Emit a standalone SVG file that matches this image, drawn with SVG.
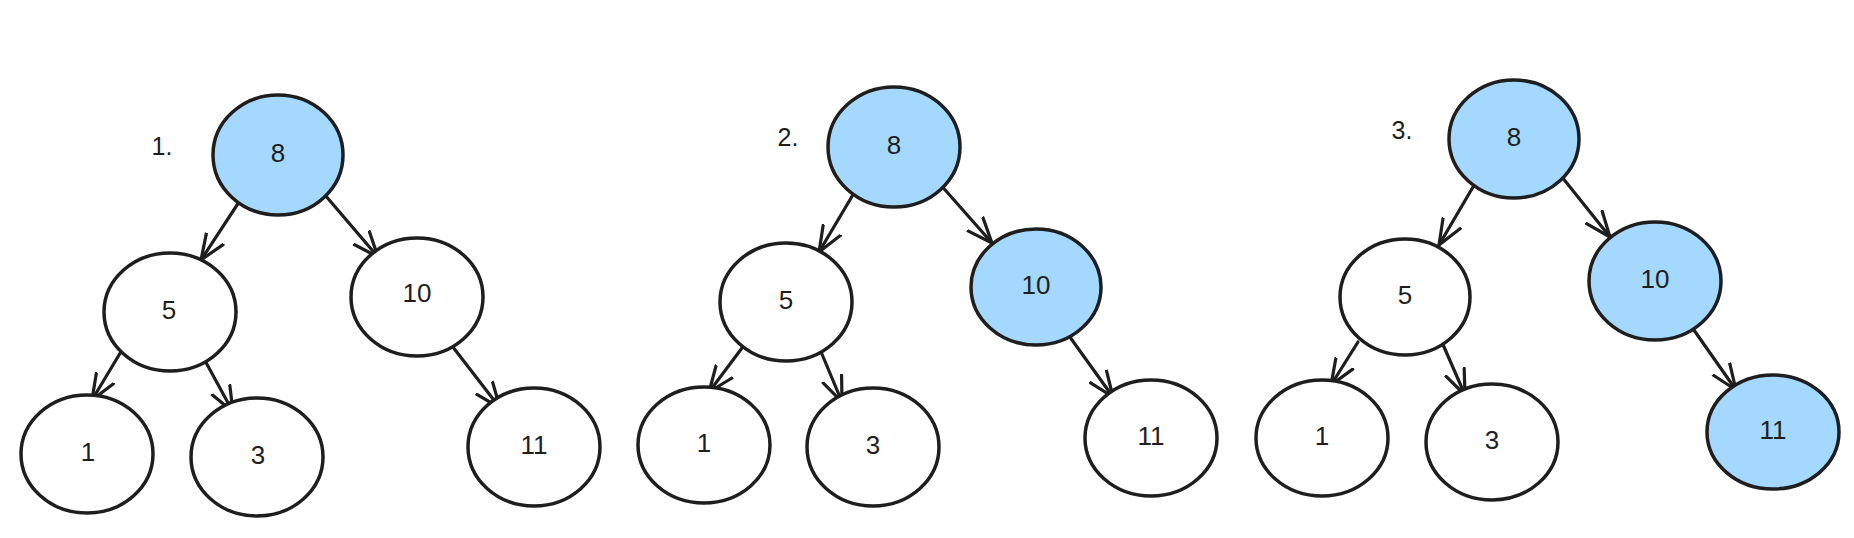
<svg xmlns="http://www.w3.org/2000/svg" width="1854" height="538" viewBox="0 0 1854 538">
<style>
.n{fill:#ffffff;stroke:#1e1e1e;stroke-width:3.5}
.h{fill:#a5d8ff;stroke:#1e1e1e;stroke-width:3.5}
.t{font-family:"Liberation Sans",Arial,sans-serif;font-size:26px;fill:#1e1e1e;text-anchor:middle;dominant-baseline:central}
.lbl{font-family:"Liberation Sans",Arial,sans-serif;font-size:25px;fill:#1e1e1e;text-anchor:middle;dominant-baseline:central}
.c{stroke:#1e1e1e;stroke-width:3.2;fill:none;marker-end:url(#ah);stroke-linecap:round}
</style>
<defs>
<marker id="ah" markerUnits="userSpaceOnUse" viewBox="0 0 28 24" markerWidth="28" markerHeight="24" refX="26" refY="12" orient="auto">
<path d="M1,2 L26,12 L1,22" fill="none" stroke="#1e1e1e" stroke-width="3.2" stroke-linecap="round" stroke-linejoin="round"/>
</marker>
</defs>
<rect width="1854" height="538" fill="#ffffff"/>
<g id="connectors">
<line class="c" x1="239" y1="202" x2="201" y2="260"/>
<line class="c" x1="325" y1="195" x2="378" y2="257"/>
<line class="c" x1="122" y1="350" x2="92" y2="400"/>
<line class="c" x1="203" y1="357" x2="233" y2="412"/>
<line class="c" x1="449" y1="342" x2="500" y2="408"/>
<line class="c" x1="854" y1="193" x2="819" y2="252"/>
<line class="c" x1="939" y1="183" x2="992" y2="243"/>
<line class="c" x1="742" y1="348" x2="709" y2="392"/>
<line class="c" x1="819" y1="347" x2="842" y2="402"/>
<line class="c" x1="1067" y1="333" x2="1113" y2="397"/>
<line class="c" x1="1473" y1="187" x2="1439" y2="245"/>
<line class="c" x1="1562" y1="177" x2="1610" y2="237"/>
<line class="c" x1="1358" y1="342" x2="1331" y2="385"/>
<line class="c" x1="1441" y1="340" x2="1465" y2="395"/>
<line class="c" x1="1689" y1="323" x2="1736" y2="390"/>
</g>
<g id="labels">
<text class="lbl" x="162" y="146">1.</text>
<text class="lbl" x="788" y="137">2.</text>
<text class="lbl" x="1402" y="130">3.</text>
</g>
<g id="t1-n8"><ellipse class="h" cx="278" cy="155" rx="65" ry="60"/><text class="t" x="278" y="153">8</text></g>
<g id="t1-n5"><ellipse class="n" cx="170" cy="312" rx="66" ry="59"/><text class="t" x="169" y="310">5</text></g>
<g id="t1-n10"><ellipse class="n" cx="417" cy="297" rx="66" ry="59"/><text class="t" x="417" y="293">10</text></g>
<g id="t1-n1"><ellipse class="n" cx="87" cy="454" rx="66" ry="59"/><text class="t" x="88" y="452">1</text></g>
<g id="t1-n3"><ellipse class="n" cx="257" cy="457" rx="66" ry="59"/><text class="t" x="258" y="455">3</text></g>
<g id="t1-n11"><ellipse class="n" cx="534" cy="447" rx="66" ry="59"/><text class="t" x="534" y="445">11</text></g>
<g id="t2-n8"><ellipse class="h" cx="894" cy="147" rx="66" ry="60"/><text class="t" x="894" y="145">8</text></g>
<g id="t2-n5"><ellipse class="n" cx="786" cy="302" rx="66" ry="59"/><text class="t" x="786" y="300">5</text></g>
<g id="t2-n10"><ellipse class="h" cx="1036" cy="287" rx="65" ry="58"/><text class="t" x="1036" y="285">10</text></g>
<g id="t2-n1"><ellipse class="n" cx="704" cy="445" rx="66" ry="58"/><text class="t" x="704" y="443">1</text></g>
<g id="t2-n3"><ellipse class="n" cx="873" cy="447" rx="66" ry="59"/><text class="t" x="873" y="445">3</text></g>
<g id="t2-n11"><ellipse class="n" cx="1151" cy="438" rx="66" ry="58"/><text class="t" x="1151" y="436">11</text></g>
<g id="t3-n8"><ellipse class="h" cx="1514" cy="139" rx="65" ry="59"/><text class="t" x="1514" y="137">8</text></g>
<g id="t3-n5"><ellipse class="n" cx="1405" cy="297" rx="65" ry="58"/><text class="t" x="1405" y="295">5</text></g>
<g id="t3-n10"><ellipse class="h" cx="1655" cy="281" rx="66" ry="59"/><text class="t" x="1655" y="279">10</text></g>
<g id="t3-n1"><ellipse class="n" cx="1322" cy="438" rx="66" ry="58"/><text class="t" x="1322" y="436">1</text></g>
<g id="t3-n3"><ellipse class="n" cx="1492" cy="442" rx="66" ry="58"/><text class="t" x="1492" y="440">3</text></g>
<g id="t3-n11"><ellipse class="h" cx="1773" cy="432" rx="66" ry="57"/><text class="t" x="1773" y="430">11</text></g>
</svg>
